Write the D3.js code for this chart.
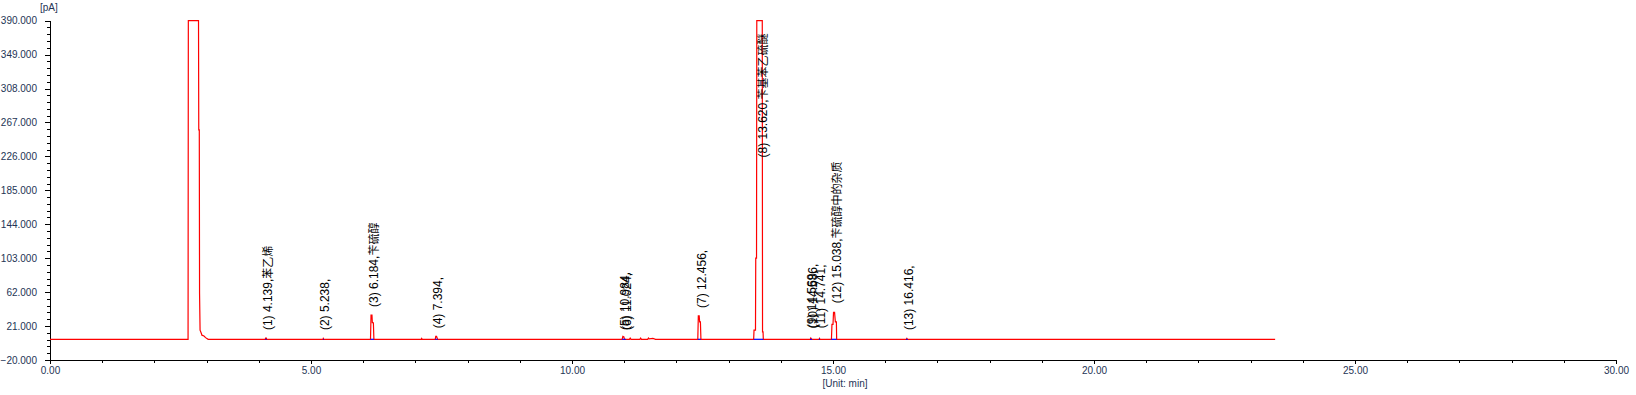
<!doctype html>
<html lang="zh">
<head>
<meta charset="UTF-8">
<title>Chromatogram</title>
<style>
  body { margin: 0; background: #fff; }
  svg text { font-family: "Liberation Sans", Arial, sans-serif; }
  .tick text { fill: #243455; font-size: 10px; }
  .axis path, .axis line { stroke: #000; }
</style>
</head>
<body>
<svg id="chart" width="1636" height="395"></svg>
<script src="https://d3js.org/d3.v7.min.js"></script>
<script>
    // detector trace, [time min, signal pA]
    const trace = [
        [0.00, 5], [2.645, 5], [2.65, 390], [2.845, 390], [2.85, 258], [2.86, 258], [2.865, 61],
        [2.875, 16], [2.90, 12], [2.91, 10], [2.95, 9], [2.98, 7], [3.03, 5],
        [4.125, 5], [4.13, 6.5], [4.145, 6.5], [4.15, 5],
        [5.23, 5], [5.235, 6], [5.245, 5],
        [6.14, 5], [6.15, 34.4], [6.168, 34.4], [6.175, 25], [6.195, 25], [6.205, 5],
        [7.11, 5], [7.12, 6], [7.13, 5],
        [7.38, 5], [7.39, 8.6], [7.405, 8.6], [7.415, 7], [7.425, 5],
        [10.96, 5], [10.975, 8.5], [10.995, 8], [11.005, 5],
        [11.10, 5], [11.115, 6.5], [11.13, 5], [11.30, 5], [11.315, 6.5], [11.33, 5],
        [11.45, 5], [11.465, 6.5], [11.48, 5.5], [11.55, 6], [11.60, 5],
        [12.41, 5], [12.42, 33.3], [12.437, 33.3], [12.445, 26], [12.46, 26], [12.47, 5],
        [13.48, 5], [13.487, 16], [13.515, 16], [13.52, 103], [13.535, 103], [13.54, 390],
        [13.645, 390], [13.65, 14], [13.66, 14], [13.665, 5],
        [14.565, 5], [14.575, 6.5], [14.59, 5],
        [14.735, 5], [14.742, 6], [14.75, 5],
        [14.97, 5], [14.98, 23], [15.0, 23], [15.01, 37.6], [15.03, 37.6], [15.045, 26],
        [15.065, 26], [15.07, 5],
        [16.405, 5], [16.415, 6], [16.425, 5],
        [23.47, 5]
    ];

    // integrated peaks
    const peakNo = [1, 2, 3, 4, 5, 6, 7, 8, 9, 10, 11, 12, 13];
    const peakTimes = [4.139, 5.238, 6.184, 7.394, 10.984, 11.024, 12.456, 13.620, 14.569, 14.586, 14.741, 15.038, 16.416];
    const peakNames = ["苯乙烯", "", "苄硫醇", "", "", "", "", "苄基苯乙硫醚", "", "", "", "苄硫醇中的杂质", ""];
    const peakHeights = [6.5, 6.5, 34.4, 8.6, 6.5, 6.5, 33.3, 215, 8.6, 8.6, 8.6, 39, 6.5];
    const peakStart = [4.125, 5.23, 6.14, 7.38, 10.96, 11.0, 12.41, 13.48, 14.56, 14.58, 14.73, 14.97, 16.40];
    const peakEnd = [4.15, 5.245, 6.205, 7.425, 11.0, 11.03, 12.47, 13.665, 14.58, 14.60, 14.75, 15.07, 16.43];
    const baselinePA = 5;

    const xTicks = [0, 5, 10, 15, 20, 25, 30];
    const yTicks = [-20, 21, 62, 103, 144, 185, 226, 267, 308, 349, 390];

    let svg = d3.select("#chart"),
        margin = {top: 20.7, right: 20, bottom: 35, left: 50},
        width = +svg.attr("width"),
        height = +svg.attr("height");

    let x = d3.scaleLinear()
        .domain([0, 30])
        .range([margin.left, width - margin.right]);

    let y = d3.scaleLinear()
        .domain([-20, 390])
        .range([height - margin.bottom, margin.top]);

    // minor ticks: 1 min on x, fifths of the major step on y
    let xMinor = d3.range(0, 30, 1).filter((d) => d % 5 !== 0);
    let yStep = yTicks[1] - yTicks[0];
    let yMinor = [];
    yTicks.slice(0, -1).forEach(function (t) {
        for (let k = 1; k < 5; k++) yMinor.push(t + k * yStep / 5);
    });

    svg.append("g")
        .attr("class", "axis")
        .attr("transform", "translate(0," + y(-20) + ")")
        .call(d3.axisBottom(x).tickValues(xMinor).tickSize(3).tickSizeOuter(0).tickFormat(""));

    svg.append("g")
        .attr("class", "axis")
        .attr("transform", "translate(0," + y(-20) + ")")
        .call(d3.axisBottom(x).tickValues(xTicks).tickSize(4).tickPadding(3)
            .tickSizeOuter(0).tickFormat(d3.format(".2f")));

    svg.append("g")
        .attr("class", "axis")
        .attr("transform", "translate(" + x(0) + ",0)")
        .call(d3.axisLeft(y).tickValues(yMinor).tickSize(3).tickSizeOuter(0).tickFormat(""));

    svg.append("g")
        .attr("class", "axis")
        .attr("transform", "translate(" + x(0) + ",0)")
        .call(d3.axisLeft(y).tickValues(yTicks).tickSize(5).tickPadding(8)
            .tickSizeOuter(0).tickFormat(d3.format(".3f")));

    svg.selectAll(".axis line, .axis path").attr("shape-rendering", "crispEdges");

    svg.append("text")
        .attr("x", 40).attr("y", 11)
        .attr("font-size", "10px").attr("fill", "#243455")
        .text("[pA]");

    svg.append("text")
        .attr("x", 845).attr("y", 387)
        .attr("text-anchor", "middle")
        .attr("font-size", "10px").attr("fill", "#243455")
        .text("[Unit: min]");

    // trace
    let line = d3.line()
        .x((d) => x(d[0]))
        .y((d) => y(d[1]));

    svg.append("path")
        .datum(trace)
        .attr("fill", "none")
        .attr("stroke", "#ff0000")
        .attr("stroke-width", 1.2)
        .attr("d", line);

    // integration baselines
    svg.append("g")
        .selectAll("line")
        .data(peakNo)
        .enter().append("line")
        .attr("x1", (d, i) => x(peakStart[i]))
        .attr("x2", (d, i) => x(peakEnd[i]))
        .attr("y1", y(baselinePA))
        .attr("y2", y(baselinePA))
        .attr("stroke", "#0000ff")
        .attr("stroke-width", 1.2);

    // peak labels
    let labels = svg.append("g")
        .selectAll("text")
        .data(peakNo)
        .enter().append("text")
        .attr("transform", (d, i) => "translate(" + x(peakTimes[i]) + "," + (y(peakHeights[i]) - 8) + ") rotate(-90)")
        .attr("dy", "0.35em")
        .attr("fill", "#000");

    labels.append("tspan")
        .attr("font-size", "12px")
        .text((d, i) => "(" + d + ") " + peakTimes[i].toFixed(3) + ",");

    labels.append("tspan")
        .attr("font-size", "11px")
        .attr("font-family", "'Noto Sans CJK SC', sans-serif")
        .text((d, i) => peakNames[i]);
</script>
</body>
</html>
